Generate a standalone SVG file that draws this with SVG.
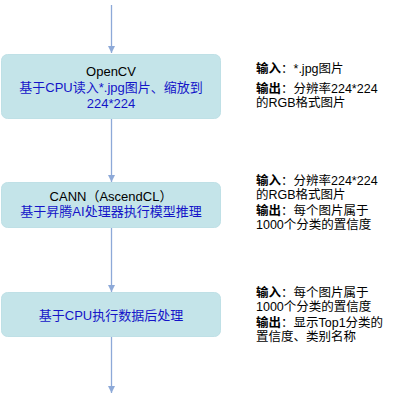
<svg xmlns="http://www.w3.org/2000/svg" width="409" height="400" viewBox="0 0 409 400">
<defs>
<marker id="ah" markerWidth="8" markerHeight="8" refX="7" refY="4" orient="auto" markerUnits="userSpaceOnUse">
<path d="M0,0.5 L7,4 L0,7.5 Z" fill="#8DA9D8"/>
</marker>
<style>
.box{fill:#C4E4E9;stroke:#BFE0E6;stroke-width:1}
.t{font-family:"Liberation Sans","Noto Sans CJK SC",sans-serif;font-size:13px}
.r{font-family:"Liberation Sans","Noto Sans CJK SC",sans-serif;font-size:12.5px;fill:#000}
.h{fill:#000;text-anchor:middle}
.b{fill:#1414C8;text-anchor:middle}
.bold{font-weight:bold}
.c{stroke:#8DA9D8;stroke-width:1.3;fill:none}
</style>
</defs>
<rect width="409" height="400" fill="#fff"/>
<g id="connectors">
<line class="c" x1="111.5" y1="5" x2="111.5" y2="53" marker-end="url(#ah)"/>
<line class="c" x1="111.5" y1="119" x2="111.5" y2="182" marker-end="url(#ah)"/>
<line class="c" x1="111.5" y1="228" x2="111.5" y2="292" marker-end="url(#ah)"/>
<line class="c" x1="111.5" y1="337" x2="111.5" y2="393" marker-end="url(#ah)"/>
</g>
<g id="node1">
<rect class="box" x="1.5" y="54.5" width="219" height="64" rx="6"/>
<text class="t h" x="111" y="76">OpenCV</text>
<text class="t b" x="111" y="92">基于CPU读入*.jpg图片、缩放到</text>
<text class="t b" x="111" y="108">224*224</text>
</g>
<g id="node2">
<rect class="box" x="1.5" y="182.5" width="219" height="45" rx="6"/>
<text class="t h" x="111" y="201">CANN（AscendCL）</text>
<text class="t b" x="111" y="216">基于昇腾AI处理器执行模型推理</text>
</g>
<g id="node3">
<rect class="box" x="1.5" y="292.5" width="219" height="44" rx="6"/>
<text class="t b" x="111" y="320">基于CPU执行数据后处理</text>
</g>
<g id="note1">
<text class="r" x="256" y="73"><tspan class="bold">输入</tspan>：*.jpg图片</text>
<text class="r" x="256" y="93"><tspan class="bold">输出</tspan>：分辨率224*224</text>
<text class="r" x="256" y="107">的RGB格式图片</text>
</g>
<g id="note2">
<text class="r" x="256" y="185"><tspan class="bold">输入</tspan>：分辨率224*224</text>
<text class="r" x="256" y="199">的RGB格式图片</text>
<text class="r" x="256" y="215"><tspan class="bold">输出</tspan>：每个图片属于</text>
<text class="r" x="256" y="229">1000个分类的置信度</text>
</g>
<g id="note3">
<text class="r" x="256" y="297"><tspan class="bold">输入</tspan>：每个图片属于</text>
<text class="r" x="256" y="311">1000个分类的置信度</text>
<text class="r" x="256" y="327"><tspan class="bold">输出</tspan>：显示Top1分类的</text>
<text class="r" x="256" y="341">置信度、类别名称</text>
</g>
</svg>
